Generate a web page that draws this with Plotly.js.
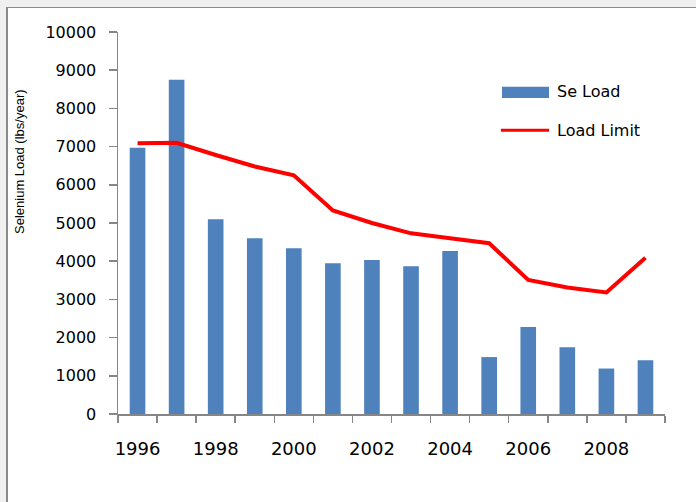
<!DOCTYPE html>
<html>
<head>
<meta charset="utf-8">
<script src="https://cdn.plot.ly/plotly-3.0.1.min.js"></script>
<style>
  html, body { margin: 0; padding: 0; background: #f0f0f0; width: 696px; height: 502px; overflow: hidden; }
  #wrap { position: absolute; left: 6px; top: 7px; border-left: 2px solid #8a8a8a; border-top: 1px solid #8a8a8a; background: #fff; }
  #chart { width: 688px; height: 494px; }
</style>
</head>
<body>
<div id="wrap"><div id="chart"></div></div>
<script>
const years = [1996, 1997, 1998, 1999, 2000, 2001, 2002, 2003, 2004, 2005, 2006, 2007, 2008, 2009];
const seLoad = [6970, 8750, 5100, 4600, 4340, 3945, 4030, 3870, 4270, 1490, 2280, 1750, 1190, 1410];
const loadLimit = [7090, 7100, 6780, 6480, 6250, 5330, 5000, 4730, 4600, 4470, 3510, 3310, 3180, 4090];
const xTickLabels = ['1996', '1998', '2000', '2002', '2004', '2006', '2008'];
const xTickVals = [1996, 1998, 2000, 2002, 2004, 2006, 2008];
const yTicks = [0, 1000, 2000, 3000, 4000, 5000, 6000, 7000, 8000, 9000, 10000];
const yTickLabels = ['0', '1000', '2000', '3000', '4000', '5000', '6000', '7000', '8000', '9000', '10000'];

const traces = [
  {
    type: 'bar', name: 'Se Load', x: years, y: seLoad,
    marker: { color: '#4f81bd' }, showlegend: false
  },
  {
    type: 'scatter', mode: 'lines', name: 'Load Limit', x: years, y: loadLimit,
    line: { color: '#ff0000', width: 4 }, showlegend: false
  }
];

const layout = {
  width: 688, height: 494,
  margin: { l: 110, r: 31, t: 24, b: 88 },
  paper_bgcolor: '#ffffff', plot_bgcolor: '#ffffff',
  bargap: 0.6,
  font: { family: 'DejaVu Sans', color: '#000' },
  xaxis: {
    range: [1995.5, 2009.5],
    tickvals: xTickVals, ticktext: xTickLabels,
    ticks: '', showgrid: false, zeroline: false,
    showline: true, linecolor: '#868686', linewidth: 1.5,
    tickfont: { family: 'DejaVu Sans', size: 18, color: '#000' },
    ticklabelstandoff: 18,
    minor: { tick0: 1995.5, dtick: 1, ticks: 'outside', ticklen: 7, tickcolor: '#868686', tickwidth: 1.5, showgrid: false }
  },
  yaxis: {
    range: [0, 10000],
    tickvals: yTicks, ticktext: yTickLabels,
    ticks: 'outside', ticklen: 8, tickcolor: '#868686', tickwidth: 1.5,
    showgrid: false, zeroline: false,
    showline: true, linecolor: '#868686', linewidth: 1.5,
    tickfont: { family: 'DejaVu Sans', size: 16, color: '#000' },
    ticklabelstandoff: 9
  },
  shapes: [
    { type: 'rect', xref: 'paper', yref: 'paper', x0: 0.702, x1: 0.788, y0: 0.827, y1: 0.857,
      fillcolor: '#4f81bd', line: { width: 0 } },
    { type: 'line', xref: 'paper', yref: 'paper', x0: 0.700, x1: 0.788, y0: 0.743, y1: 0.743,
      line: { color: '#ff0000', width: 3 } }
  ],
  annotations: [
    { text: 'Selenium Load (lbs/year)', xref: 'paper', yref: 'paper', x: -0.179, y: 0.66,
      textangle: -90, showarrow: false, xanchor: 'center', yanchor: 'middle',
      font: { family: 'Liberation Sans', size: 13, color: '#000' } },
    { text: 'Se Load', xref: 'paper', yref: 'paper', x: 0.799, y: 0.843,
      showarrow: false, xanchor: 'left', yanchor: 'middle',
      font: { family: 'DejaVu Sans', size: 16, color: '#000' } },
    { text: 'Load Limit', xref: 'paper', yref: 'paper', x: 0.799, y: 0.743,
      showarrow: false, xanchor: 'left', yanchor: 'middle',
      font: { family: 'DejaVu Sans', size: 16, color: '#000' } }
  ]
};

Plotly.newPlot('chart', traces, layout, { staticPlot: true, displayModeBar: false });
</script>
</body>
</html>
